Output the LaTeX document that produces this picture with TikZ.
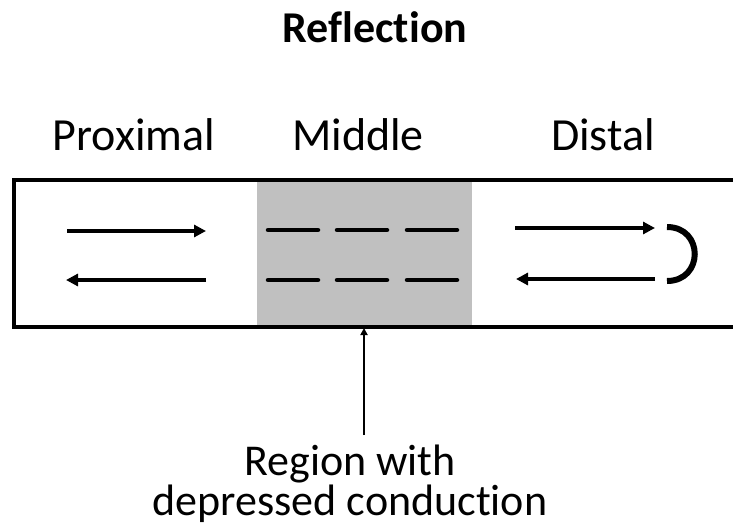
\documentclass[tikz,border=0pt]{standalone}
\usepackage{fontspec}
\setmainfont{Carlito}[Ligatures={NoCommon,NoContextual}]
\usetikzlibrary{arrows.meta}
\definecolor{midgray}{RGB}{192,192,192}
\begin{document}
\begin{tikzpicture}[x=1pt,y=-1pt,
  lbl/.style={inner sep=0pt,anchor=base,font=\fontsize{46}{50}\selectfont},
  sig/.style={line width=3.8pt,-{Triangle[length=12pt,width=12pt]}},
  dsh/.style={line width=4.5pt,line cap=round},
  wall/.style={line width=3.5pt}]
\useasboundingbox (0,0) rectangle (733,527);
% gray region
\fill[midgray] (257,180) rectangle (472,327);
% fibre walls
\draw[wall] (733,180) -- (14,180) -- (14,327) -- (733,327);
% titles
\node[lbl,font=\bfseries\fontsize{44}{48}\selectfont] (title) at (375,43) {Reflection};
\node[lbl] (prox) at (134,150) {Proximal};
\node[lbl] (mid) at (358,150) {Middle};
\node[lbl] (dist) at (603,150) {Distal};
% proximal arrows
\coordinate (p1) at (67,231); \coordinate (p2) at (206,231);
\coordinate (p3) at (206,280); \coordinate (p4) at (66,280);
\draw[sig] (p1) -- (p2);
\draw[sig] (p3) -- (p4);
% middle dashes
\foreach \x [count=\i] in {268,337,407}{
  \coordinate (a\i) at (\x,230); \coordinate (b\i) at (\x+50,230);
  \coordinate (c\i) at (\x,280); \coordinate (d\i) at (\x+50,280);
  \draw[dsh] (a\i) -- (b\i);
  \draw[dsh] (c\i) -- (d\i);
}
% distal arrows
\coordinate (q1) at (515,228); \coordinate (q2) at (655,228);
\coordinate (q3) at (655,279); \coordinate (q4) at (516,279);
\draw[sig] (q1) -- (q2);
\draw[sig] (q3) -- (q4);
% reflection arc
\coordinate (r1) at (667,227); \coordinate (r2) at (667,281);
\draw[line width=6pt] (r1) .. controls (704,227) and (704,281) .. (r2);
% pointer
\node[lbl,font=\fontsize{44}{48}\selectfont] (region1) at (350,475) {Region with};
\node[lbl,font=\fontsize{44}{48}\selectfont] (region2) at (350,515) {depressed conduction};
\coordinate (tail) at (364,435);
\coordinate (tip) at (364,328);
\draw[line width=1.8pt,-{Triangle[length=7pt,width=7pt]}] (tail) -- (tip);
\end{tikzpicture}
\end{document}
